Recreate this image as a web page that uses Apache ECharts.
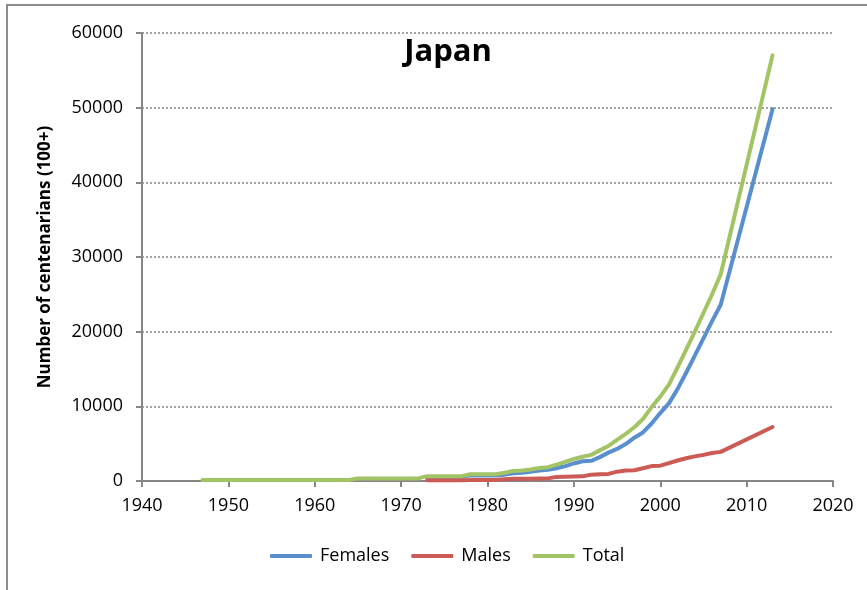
<!DOCTYPE html>
<html>
<head>
<meta charset="utf-8">
<script src="https://cdn.jsdelivr.net/npm/echarts@6/dist/echarts.min.js"></script>
<style>html,body{margin:0;padding:0;background:#fff;}#c{width:867px;height:590px;}</style>
</head>
<body>
<div id="c"></div>
<script>
const years = [1947,1948,1949,1950,1951,1952,1953,1954,1955,1956,1957,1958,1959,1960,1961,1962,1963,1964,
  1965,1966,1967,1968,1969,1970,1971,1972,
  1973,1974,1975,1976,1977,1978,1979,1980,1981,
  1982,1983,1984,1985,1986,1987,1988,1989,1990,1991,1992,1993,1994,1995,1996,1997,1998,1999,
  2000,2001,2002,2003,2004,2005,2006,2007,2013];
const total = [150,150,150,150,150,150,150,150,150,150,150,150,150,150,150,150,150,150,
  350,350,350,350,350,350,350,350,
  650,650,650,650,650,900,900,900,900,
  1100,1350,1400,1550,1750,1850,2200,2550,2950,3250,3500,4100,4700,5500,6300,7200,8300,9900,
  11300,12900,15200,17600,20000,22500,25000,27700,57000];
const females = [null,null,null,null,null,null,null,null,null,null,null,null,null,null,null,null,null,null,
  null,null,null,null,null,null,null,null,
  550,550,550,550,550,750,750,750,750,
  850,1050,1100,1250,1400,1500,1700,2000,2350,2650,2700,3200,3800,4300,4950,5800,6500,7700,
  9100,10400,12300,14500,16800,19100,21400,23600,49800];
const males = [null,null,null,null,null,null,null,null,null,null,null,null,null,null,null,null,null,null,
  null,null,null,null,null,null,null,null,
  100,100,100,100,100,150,150,150,150,
  250,300,300,300,350,350,550,580,600,620,850,900,950,1250,1400,1450,1700,2000,
  2050,2400,2750,3050,3300,3500,3750,3900,7230];
const seriesNames = ['Females','Males','Total'];
const colors = ['#5A8FCD','#CC5A55','#A3C465'];
const xTicks = {min:1940, max:2020, step:10};
const yTicks = {min:0, max:60000, step:10000};

function pairs(vals){ const out=[]; years.forEach((y,i)=>{ if(vals[i]!==null) out.push([y,vals[i]]); }); return out; }
const FONT = 'Open Sans';
const chart = echarts.init(document.getElementById('c'), null, {renderer:'canvas'});
const mkSeries = (name, vals, color) => ({
  name, type:'line', data:pairs(vals), showSymbol:false, symbol:'none', smooth:false,
  lineStyle:{color, width:4, cap:'round', join:'round'}, itemStyle:{color}, z:2, animation:false
});
chart.setOption({
  animation:false,
  graphic:[{type:'rect', shape:{x:7,y:5,width:1000,height:800}, style:{fill:'none', stroke:'#8c8c8c', lineWidth:2}, silent:true}],
  title:{text:'Japan', left:443, top:32, textAlign:'center', textStyle:{fontFamily:FONT, fontWeight:'bold', fontSize:31, color:'#000'}},
  grid:{left:142, right:34, top:33, bottom:109, containLabel:false},
  legend:{data:seriesNames, bottom:20, left:265, itemWidth:42, itemHeight:4, itemGap:22, icon:'roundRect',
    textStyle:{fontFamily:FONT, fontSize:18, color:'#000', padding:[0,0,0,3]}},
  xAxis:{type:'value', min:xTicks.min, max:xTicks.max, interval:xTicks.step,
    axisLine:{show:true, lineStyle:{color:'#868686', width:2}},
    axisTick:{show:true, length:6, lineStyle:{color:'#868686', width:2}},
    axisLabel:{color:'#000', fontFamily:FONT, fontSize:18, margin:16, formatter:v=>String(v)},
    splitLine:{show:false}},
  yAxis:{type:'value', min:yTicks.min, max:yTicks.max, interval:yTicks.step,
    name:'Number of centenarians (100+)', nameLocation:'middle', nameGap:88,
    nameTextStyle:{fontFamily:FONT, fontWeight:'bold', fontSize:17, color:'#000'},
    axisLine:{show:true, lineStyle:{color:'#868686', width:2}},
    axisTick:{show:true, length:6, lineStyle:{color:'#868686', width:2}},
    axisLabel:{color:'#000', fontFamily:FONT, fontSize:18, margin:19, formatter:v=>String(v)},
    splitLine:{show:true, lineStyle:{color:'#868686', width:1.5, type:[2,2]}}},
  series:[mkSeries('Females',females,colors[0]), mkSeries('Males',males,colors[1]), mkSeries('Total',total,colors[2])]
});
</script>
</body>
</html>
